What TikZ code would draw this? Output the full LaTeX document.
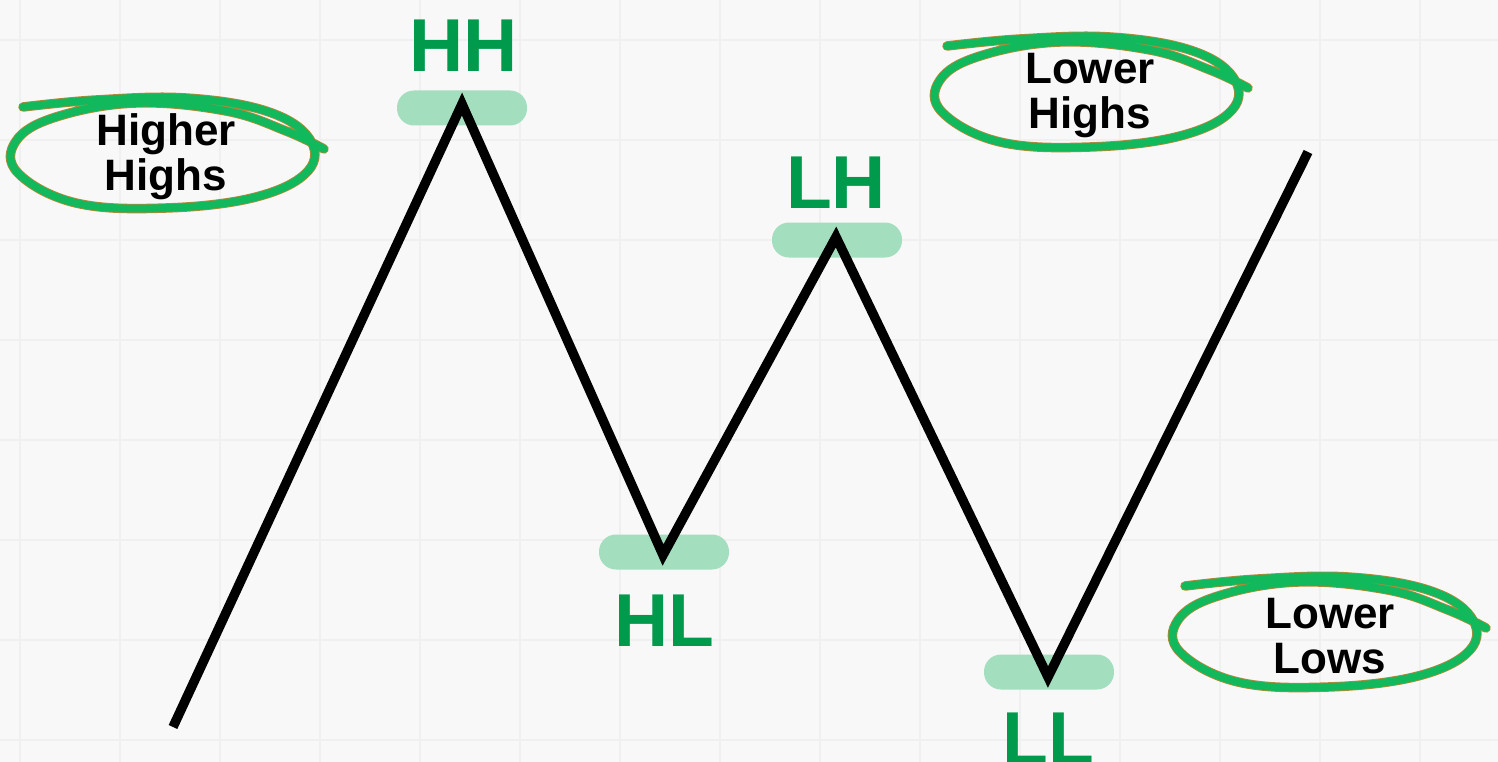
\documentclass[tikz,border=0pt]{standalone}
\usepackage{fontspec}
\setmainfont{Liberation Sans}
\definecolor{bg}{HTML}{F8F8F8}
\definecolor{gridc}{HTML}{F0F0F0}
\definecolor{pill}{HTML}{A3DFBF}
\definecolor{lblgreen}{HTML}{009A4C}
\definecolor{swoosh}{HTML}{12B95C}
\definecolor{swooshedge}{HTML}{B08A3A}
\tikzset{
  pillbox/.style={fill=pill, draw=none, rounded corners=17pt, minimum width=130pt, minimum height=35pt, inner sep=0pt},
  ptlabel/.style={text=lblgreen, font=\fontsize{75}{75}\selectfont\bfseries, anchor=base, inner sep=0pt},
  circlabel/.style={text=black, font=\fontsize{44}{45}\selectfont\bfseries, align=center, inner sep=0pt},
  zig/.style={line width=9.5pt, black, line join=miter},
}
\newcommand{\swooshpath}{plot[smooth, tension=0.65] coordinates {(-143,-46) (-70,-53) (20,-55) (100,-42) (143,-15) (142,18) (90,44) (0,55) (-90,50) (-148,20) (-150,-12) (-110,-36) (-30,-50) (60,-42) (120,-22) (158,-4)}}
\newcommand{\drawswoosh}[1]{%
  \begin{scope}[shift={#1}]
    \draw[swooshedge, line width=9.5pt, line cap=round, line join=round] \swooshpath;
    \draw[swoosh, line width=7.8pt, line cap=round, line join=round] \swooshpath;
  \end{scope}}
\begin{document}
\begin{tikzpicture}[x=1pt, y=-1pt]
\useasboundingbox (0,0) rectangle (1498,762);
\clip (0,0) rectangle (1498,762);
\fill[bg] (0,0) rectangle (1498,762);
\foreach \gx in {20,120,...,1420} \draw[gridc, line width=1.2pt] (\gx,0) -- (\gx,762);
\foreach \gy in {40,140,...,740} \draw[gridc, line width=1.2pt] (0,\gy) -- (1498,\gy);

% swooshes
\drawswoosh{(166,153)}
\drawswoosh{(1090,92)}
\drawswoosh{(1328,632)}

\node[circlabel] (hhtext) at (166,157) {Higher\\Highs};
\node[circlabel] (lhtext) at (1090,96) {Lower\\Highs};
\node[circlabel] (lltext) at (1330,636) {Lower\\Lows};

% pills
\node[pillbox] (hhpill) at (462,108) {};
\node[pillbox] (hlpill) at (664,552) {};
\node[pillbox] (lhpill) at (837,240) {};
\node[pillbox] (llpill) at (1049,672) {};

% zigzag
\coordinate (start) at (173,727);
\coordinate (hh) at (462,104);
\coordinate (hl) at (663,555);
\coordinate (lh) at (836,237);
\coordinate (ll) at (1048,677);
\coordinate (finish) at (1308,152);
\draw[zig] (start) -- (hh) -- (hl) -- (lh) -- (ll) -- (finish);

% labels
\node[ptlabel] (hhlbl) at (464,72) {HH};
\node[ptlabel] (lhlbl) at (836,208) {LH};
\node[ptlabel] (hllbl) at (664,646) {HL};
\node[ptlabel] (lllbl) at (1048,764) {LL};
\end{tikzpicture}
\end{document}
